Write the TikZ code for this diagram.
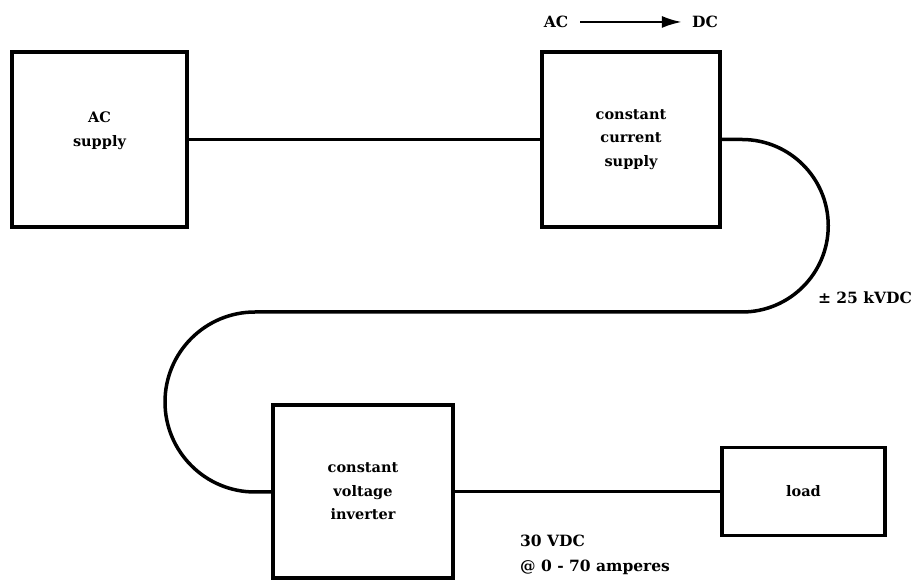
\documentclass[tikz,border=0pt]{standalone}
\usepackage{fontspec}
\setmainfont{DejaVu Serif}
\usetikzlibrary{arrows.meta}
\begin{document}
\begin{tikzpicture}[x=1pt,y=1pt,
  blk/.style={draw, line width=3.5pt, rectangle, align=center, inner sep=0pt,
    font=\bfseries\fontsize{14.5}{23.5}\selectfont},
  txt/.style={align=center, inner sep=0pt, font=\bfseries\fontsize{14.5}{23.5}\selectfont},
  wire/.style={line width=3.5pt},
  lbl/.style={inner sep=0pt, font=\bfseries\fontsize{15.5}{25}\selectfont}]
\useasboundingbox (0,0) rectangle (915,583);
\node[blk, minimum width=175, minimum height=175] (ac) at (99.5,443.5) {};
\node[txt] (actext) at ([yshift=9pt]ac.center) {AC\\supply};
\node[blk, minimum width=178, minimum height=175] (ccs) at (631,443.5) {constant\\current\\supply};
\node[blk, minimum width=180, minimum height=173] (inv) at (363,91.5) {constant\\voltage\\inverter};
\node[blk, minimum width=163, minimum height=88] (load) at (803.5,91.5) {load};
\node[lbl] (acl) at (556,561) {AC};
\node[lbl] (dcl) at (705,561) {DC};
\node[lbl] (kv) at (865,285) {± 25 kVDC};
\node[lbl, align=left, anchor=west] (vdc) at (520,28) {30 VDC\\@ 0 - 70 amperes};
\draw[line width=2.5pt, -{Latex[length=20pt,width=12pt]}] ([xshift=12pt]acl.east) -- ([xshift=-10pt]dcl.west);
\draw[wire] (ac.east) -- (ccs.west);
\draw[wire] (ccs.east) -- (742,443.5) arc[start angle=90, end angle=-90, radius=86.25]
  -- (255,271) arc[start angle=90, end angle=270, radius=90] coordinate (c1) -- (inv.west |- c1);
\draw[wire] (inv.east) -- (load.west);
\end{tikzpicture}
\end{document}
